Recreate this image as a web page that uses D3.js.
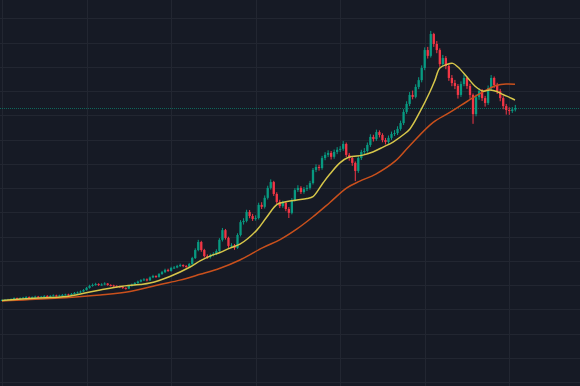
<!DOCTYPE html>
<html><head><meta charset="utf-8">
<script src="https://cdn.jsdelivr.net/npm/d3@7"></script>
<style>html,body{margin:0;padding:0;background:#161a25;overflow:hidden}</style>
</head><body><svg id="c" width="580" height="386"></svg>
<script>
// ---- DATA (price units) ----
const open = [33.7,33.9,34.0,34.1,34.3,34.7,34.5,34.7,34.9,35.1,
 34.9,35.1,35.3,35.1,35.3,35.6,35.3,35.6,35.8,35.6,
 35.8,36.0,36.2,36.0,36.4,36.8,37.0,37.4,38.0,38.9,
 39.7,40.1,40.5,40.1,40.3,40.7,40.1,39.9,39.7,39.5,
 39.3,38.9,38.6,39.7,40.3,40.9,41.5,42.1,42.4,42.0,
 43.2,43.8,43.4,44.6,45.4,46.3,45.9,47.1,47.3,47.9,
 48.3,47.9,47.7,48.7,51.2,54.5,57.8,54.5,52.0,51.6,
 52.4,52.9,54.1,58.7,62.7,59.5,56.2,56.4,55.4,60.7,
 66.0,66.5,70.2,68.5,67.3,67.7,73.1,72.3,76.0,80.1,
 82.5,77.6,74.3,72.6,73.9,71.4,69.8,75.1,79.2,80.1,
 78.4,79.6,80.1,82.1,87.5,88.7,88.3,92.4,93.7,94.5,
 92.9,94.9,95.8,96.2,98.2,93.7,92.4,90.4,87.1,92.4,
 94.9,95.3,97.8,101.1,100.2,103.1,101.9,99.8,99.0,100.7,
 102.3,102.7,104.4,106.8,111.4,114.7,118.4,117.6,121.7,124.5,
 129.5,136.9,134.5,143.5,139.4,136.9,131.1,133.6,130.3,125.4,
 123.3,122.1,118.4,122.9,125.4,122.1,118.4,110.5,117.5,120.0,
 117.1,115.1,121.2,125.4,122.5,120.0,117.1,113.8,112.2,111.8,
 112.4];
const close = [33.9,34.0,34.1,34.3,34.7,34.5,34.7,34.9,35.1,34.9,
 35.1,35.3,35.1,35.3,35.6,35.3,35.6,35.8,35.6,35.8,
 36.0,36.2,36.0,36.4,36.8,37.0,37.4,38.0,38.9,39.7,
 40.1,40.5,40.1,40.3,40.7,40.1,39.9,39.7,39.5,39.3,
 38.9,38.6,39.7,40.3,40.9,41.5,42.1,42.4,42.0,43.2,
 43.8,43.4,44.6,45.4,46.3,45.9,47.1,47.3,47.9,48.3,
 47.9,47.7,48.7,51.2,54.5,57.8,54.5,52.0,51.6,52.4,
 52.9,54.1,58.7,62.7,59.5,56.2,56.4,55.4,60.7,66.0,
 66.5,70.2,68.5,67.3,67.7,73.1,72.3,76.0,80.1,82.5,
 77.6,74.3,72.6,73.9,71.4,69.8,75.1,79.2,80.1,78.4,
 79.6,80.1,82.1,87.5,88.7,88.3,92.4,93.7,94.5,92.9,
 94.9,95.8,96.2,98.2,93.7,92.4,90.4,87.1,92.4,94.9,
 95.3,97.8,101.1,100.2,103.1,101.9,99.8,99.0,100.7,102.3,
 102.7,104.4,106.8,111.4,114.7,118.4,117.6,121.7,124.5,129.5,
 136.9,134.5,143.5,139.4,136.9,131.1,133.6,130.3,125.4,123.3,
 122.1,118.4,122.9,125.4,122.1,118.4,110.5,117.5,120.0,117.1,
 115.1,121.2,125.4,122.5,120.0,117.1,113.8,112.2,111.8,112.4,
 113.0];
const high = [34.2,34.3,34.4,34.6,35.0,34.9,35.0,35.2,35.5,35.4,
 35.4,35.7,35.6,35.6,35.9,35.9,35.9,36.2,36.1,36.1,
 36.4,36.5,36.5,36.8,37.2,37.4,37.8,38.4,39.3,40.2,
 40.7,41.0,40.8,40.8,41.2,40.9,40.4,40.2,40.0,39.8,
 39.5,39.1,40.0,40.7,41.3,41.9,42.5,42.9,42.8,43.6,
 44.3,44.1,45.0,45.9,46.8,46.8,47.6,47.9,48.4,48.9,
 48.6,48.3,49.2,51.7,55.2,58.7,58.3,55.0,52.7,53.0,
 53.6,54.8,59.4,63.6,63.2,60.0,57.3,57.0,61.4,66.8,
 67.6,71.1,71.0,69.4,68.8,74.0,74.2,77.0,81.0,83.6,
 83.0,78.3,75.2,74.8,74.5,72.2,75.9,80.0,81.2,80.8,
 80.5,81.3,83.0,88.3,89.8,89.6,93.3,94.8,95.6,95.3,
 95.9,96.9,97.3,99.4,98.8,94.5,93.0,91.0,93.2,95.8,
 96.5,98.8,102.2,102.0,104.1,103.8,102.6,100.7,101.7,103.3,
 103.9,105.5,107.8,112.5,115.8,119.6,120.2,122.8,125.7,130.6,
 138.0,138.2,144.8,144.0,140.6,137.6,134.9,134.4,131.0,126.6,
 124.6,122.9,124.0,126.8,126.0,123.0,119.0,118.6,121.2,120.8,
 118.0,122.3,126.6,126.0,123.4,120.9,117.9,114.7,113.3,113.4,
 114.3];
const low = [33.5,33.6,33.8,33.9,34.1,34.2,34.3,34.5,34.7,34.6,
 34.7,34.9,34.8,34.9,35.1,35.0,35.1,35.4,35.3,35.4,
 35.6,35.8,35.7,35.8,36.2,36.6,36.8,37.2,37.8,38.6,
 39.4,39.8,39.7,39.8,40.0,39.8,39.5,39.3,39.1,38.9,
 38.5,38.2,38.4,39.4,40.0,40.6,41.2,41.8,41.6,41.8,
 42.9,43.0,43.1,44.3,45.0,45.5,45.6,46.7,47.0,47.5,
 47.4,47.2,47.4,48.4,50.8,54.0,53.8,51.4,50.9,51.0,
 51.9,52.4,53.6,58.0,58.8,55.4,55.5,54.6,55.0,60.1,
 65.0,65.9,67.6,66.5,66.6,67.1,71.4,71.6,75.3,79.4,
 76.8,73.5,71.8,71.9,70.5,67.7,69.2,74.5,78.4,77.6,
 77.7,78.8,79.4,81.5,86.6,87.2,87.6,91.5,92.8,91.8,
 92.1,94.0,94.9,95.4,92.8,91.3,89.2,82.9,86.3,91.6,
 94.0,94.6,97.0,99.2,99.5,100.9,98.9,98.0,98.3,99.9,
 101.5,101.9,103.7,106.0,110.6,113.8,116.6,117.0,120.8,123.6,
 128.6,133.4,133.8,138.2,135.6,130.0,130.2,129.0,124.2,122.0,
 120.8,116.9,117.6,122.0,120.9,116.8,106.5,109.6,116.4,115.9,
 113.6,114.3,120.3,121.3,118.8,115.8,112.5,110.3,110.2,111.0,
 111.6];
// moving-average lines: candle index -> value
const fastMaIdx = [0,9.3,15.9,22.5,29.1,32.5,39.1,45.7,49,55.6,62.3,65.6,68.9,72.2,75.5,78.8,84.4,87.7,91.1,94.4,97.7,101,103,106.3,108.6,111.9,114.8,119.5,122.8,126.2,129.5,132.8,135.1,138.4,141.7,143.4,145,147.4,149.3,151,154,156.6,159.3,161.6,163.9,165.9,168.2,169.9];
const fastMaVal = [33.7,34.5,34.9,35.6,37.2,38.0,39.5,40.3,40.9,43.6,47.5,50.0,52.0,53.5,55.3,56.9,62.7,68.1,73.3,74.5,75.1,75.7,76.5,82.1,85.8,90.4,92.7,93.6,94.9,96.9,99.0,101.9,104.4,111.4,119.6,124.5,129.5,131.0,131.4,129.9,125.8,122.1,120.0,120.4,119.8,118.6,117.3,116.3];
const slowMaIdx = [0,15.9,32.5,42.4,52.3,58.9,65.6,72.2,78.8,86.4,92.1,97.7,103,108.6,114.2,118.5,123.8,130.1,135.1,142.7,148.3,154,159.3,163.9,167.2,169.9];
const slowMaVal = [33.5,34.5,36.0,37.4,40.3,42.1,44.5,47.0,50.4,55.5,58.8,63.2,68.2,74.1,80.1,82.9,85.8,91.0,97.6,107.0,111.2,115.7,119.7,122.4,122.9,122.8];
const gridPrices = [0,10,20,30,40,50,60,70,80,90,100,110,120,130,140,150];
const gridIndex = [0,28,56,84,112,140,168];

// ---- CHART ----
const W = 580, H = 386;
const svg = d3.select('#c');
const n = close.length;
const x = d3.scaleLinear().domain([0, n - 1]).range([2, 515.3]);
const y = d3.scaleLinear().domain([0, 150]).range([382.3, 18.25]);
const UP = '#089981', DOWN = '#f23645';

svg.append('rect').attr('width', W).attr('height', H).attr('fill', '#161a25');

const g = svg.append('g');
g.selectAll('line.h').data(gridPrices).enter().append('line')
  .attr('x1', 0).attr('x2', W)
  .attr('y1', d => Math.round(y(d)) + 0.5).attr('y2', d => Math.round(y(d)) + 0.5)
  .attr('stroke', '#222631').attr('stroke-width', 1);
g.selectAll('line.v').data(gridIndex).enter().append('line')
  .attr('y1', 0).attr('y2', H)
  .attr('x1', d => Math.round(x(d)) + 0.5).attr('x2', d => Math.round(x(d)) + 0.5)
  .attr('stroke', '#222631').attr('stroke-width', 1);

// last price dotted line
const lastUp = close[n - 1] >= open[n - 1];
svg.append('line')
  .attr('x1', 0).attr('x2', W)
  .attr('y1', Math.round(y(close[n - 1])) + 0.5).attr('y2', Math.round(y(close[n - 1])) + 0.5)
  .attr('stroke', lastUp ? UP : DOWN).attr('stroke-opacity', 0.6)
  .attr('stroke-width', 1).attr('stroke-dasharray', '1,1');

const idx = d3.range(n);
const cg = svg.append('g');
cg.selectAll('rect.w').data(idx).enter().append('rect')
  .attr('x', i => x(i) - 0.5)
  .attr('width', 1)
  .attr('y', i => y(high[i]))
  .attr('height', i => Math.max(1, y(low[i]) - y(high[i])))
  .attr('fill', i => close[i] >= open[i] ? UP : DOWN);
cg.selectAll('rect.b').data(idx).enter().append('rect')
  .attr('x', i => x(i) - 1.15)
  .attr('width', 2.3)
  .attr('y', i => y(Math.max(open[i], close[i])))
  .attr('height', i => Math.max(1, Math.abs(y(open[i]) - y(close[i]))))
  .attr('fill', i => close[i] >= open[i] ? UP : DOWN);

const line = d3.line().curve(d3.curveCatmullRom.alpha(0.5)).x(d => x(d[0])).y(d => y(d[1]));
svg.append('path').datum(d3.zip(slowMaIdx, slowMaVal))
  .attr('d', line).attr('fill', 'none').attr('stroke', '#c9501c').attr('stroke-width', 1.5);
svg.append('path').datum(d3.zip(fastMaIdx, fastMaVal))
  .attr('d', line).attr('fill', 'none').attr('stroke', '#d6c64a').attr('stroke-width', 1.5);
</script></body></html>
